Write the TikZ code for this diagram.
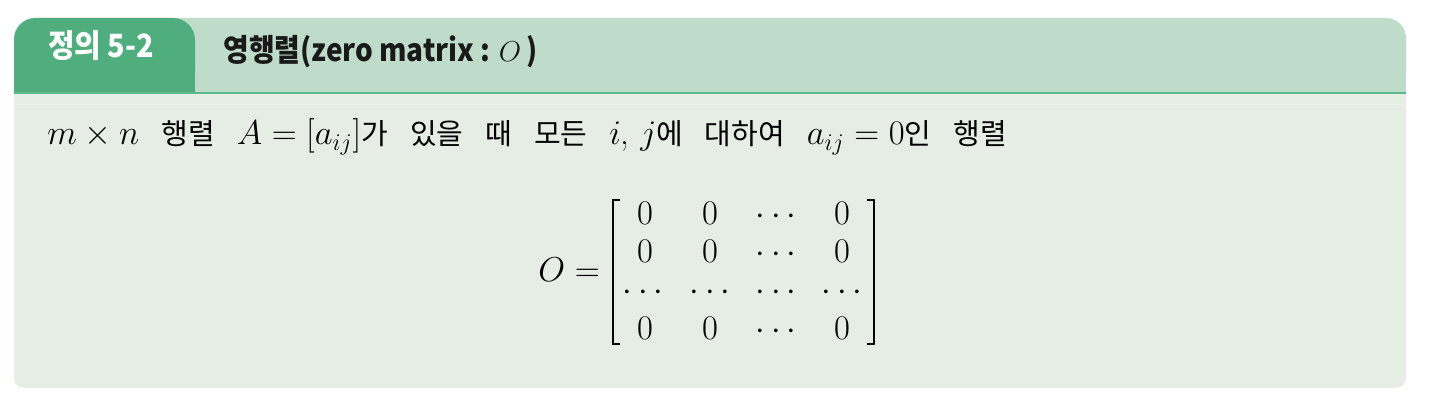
\documentclass[tikz,border=0pt]{standalone}
\usepackage{fontspec}
\newfontfamily\kr{Noto Sans CJK KR}
\newfontfamily\krc[FakeStretch=0.9]{Noto Sans CJK KR}
\definecolor{tabgreen}{HTML}{4FAD7E}
\definecolor{hdrgreen}{HTML}{BFDBC9}
\definecolor{linegreen}{HTML}{5DBA8F}
\definecolor{bodybg}{HTML}{E5EDE5}
\definecolor{bodyline}{HTML}{EDF3EC}
\tikzset{
  tagtext/.style={inner sep=0pt, text=white, font=\krc\bfseries\fontsize{16}{18}\selectfont},
  titletext/.style={inner sep=0pt, text=black!90, font=\krc\bfseries\fontsize{15.5}{18}\selectfont},
  bodytext/.style={inner sep=0pt, font=\fontsize{17.5}{20}\selectfont},
  mattext/.style={inner sep=0pt, font=\fontsize{16.5}{19}\selectfont},
  entry/.style={mattext, anchor=base},
  bracket/.style={line width=1.2pt},
}
\newcommand{\K}[1]{{\kr\fontsize{14.5}{17}\selectfont #1}}
\newcommand{\G}{\hspace{11pt}}
\begin{document}
\begin{tikzpicture}[x=0.5pt,y=-0.5pt]
\useasboundingbox (0,0) rectangle (1436,406);
% body
\fill[bodybg, rounded corners=5pt] (14,94) rectangle (1406,388);
\fill[bodybg] (14,94) rectangle (1406,200);
\fill[bodyline] (14,104) rectangle (1406,105.5);
% header band
\fill[hdrgreen, rounded corners=10pt] (14,18) rectangle (1406,93);
\fill[hdrgreen] (14,60) rectangle (1406,93);
% tab
\fill[tabgreen, rounded corners=11pt] (14,18) rectangle (195,93);
\fill[tabgreen] (14,60) rectangle (195,93);
% line
\fill[linegreen] (14,92) rectangle (1406,94.5);
% header texts
\node[tagtext, anchor=base west] (tag) at (48,58) {정의 5-2};
\node[titletext, anchor=base west] (title) at (223,62) {영행렬(zero matrix : $O$\,)};
% body line
\node[bodytext, anchor=base west] (line) at (47,145)
 {$m\times n$\G\K{행렬}\G$A=[a_{ij}]$\K{가}\G\K{있을}\G\K{때}\G\K{모든}\G$i$,\ $j$\K{에}\G\K{대하여}\G$a_{ij}=0$\K{인}\G\K{행렬}};
% matrix
\node[mattext, anchor=base west] (lhs) at (538,282) {$O=$};
\foreach \r/\y in {1/225,2/263,4/340}{
  \node[entry] (m\r1) at (645,\y) {$0$};
  \node[entry] (m\r2) at (710,\y) {$0$};
  \node[entry] (m\r3) at (776,\y) {$\cdots$};
  \node[entry] (m\r4) at (842,\y) {$0$};
}
\node[entry] (m31) at (643,301) {$\cdots$};
\node[entry] (m32) at (710,301) {$\cdots$};
\node[entry] (m33) at (776,301) {$\cdots$};
\node[entry] (m34) at (842,301) {$\cdots$};
\draw[bracket] (620,200) -- (613,200) -- (613,344) -- (620,344);
\draw[bracket] (867,200) -- (874,200) -- (874,344) -- (867,344);
\end{tikzpicture}
\end{document}
